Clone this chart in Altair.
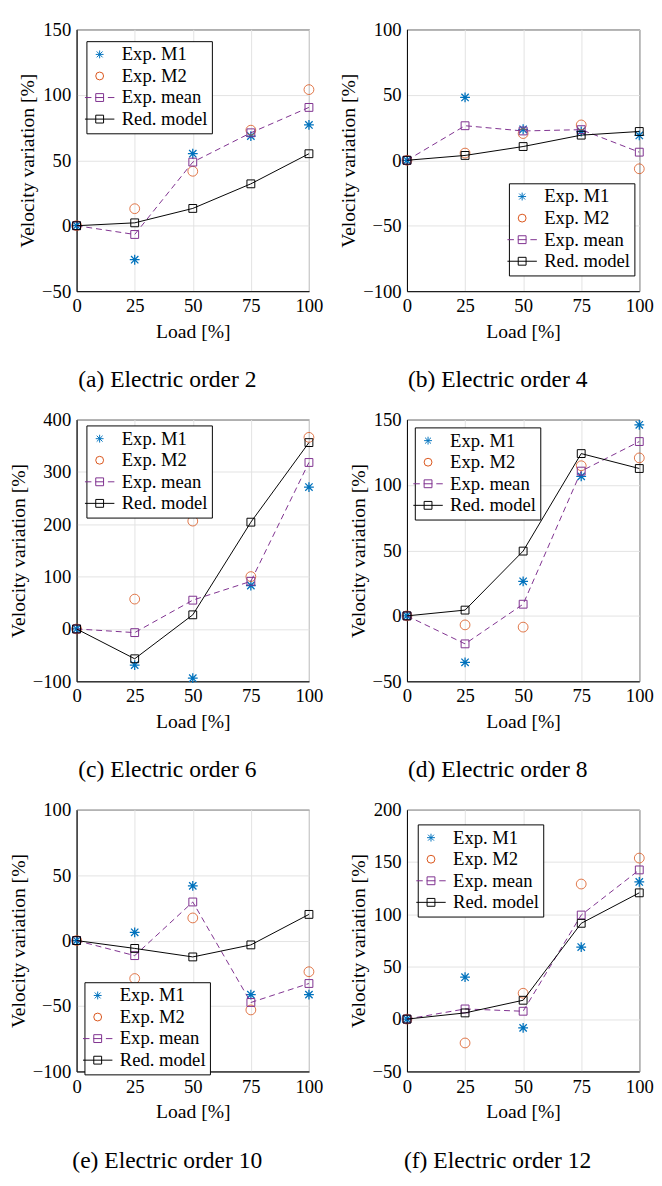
import altair as alt
import pandas as pd

SERIF = "Liberation Serif"
LOAD = [0, 25, 50, 75, 100]
SERIES = ["Exp. M1", "Exp. M2", "Exp. mean", "Red. model"]

# (a) Electric order 2
A_M1 = [0, -26, 55, 68.5, 77]
A_M2 = [0, 13, 41.6, 73, 104]
A_MEAN = [0, -6.7, 48.6, 71, 90.4]
A_MODEL = [0, 2.2, 13.2, 32, 55]
# (b) Electric order 4
B_M1 = [0, 48, 23.7, 22, 19]
B_M2 = [0, 5.5, 20.4, 27, -6.5]
B_MEAN = [0, 26.4, 22.4, 23.4, 6.2]
B_MODEL = [0, 3.7, 10.5, 19.2, 22]
# (c) Electric order 6
C_M1 = [0, -69, -94, 83, 271]
C_M2 = [0, 57, 206, 100, 366]
C_MEAN = [0, -7, 55, 91, 318]
C_MODEL = [0, -57, 27, 204, 356]
# (d) Electric order 8
D_M1 = [0, -35.5, 26.4, 106.6, 146]
D_M2 = [0, -6.9, -8.6, 114.7, 120.7]
D_MEAN = [0, -21.4, 8.9, 110.6, 133.2]
D_MODEL = [0, 4.4, 49.5, 124, 112.6]
# (e) Electric order 10
E_M1 = [0, 6.3, 41.8, -41.3, -41.3]
E_M2 = [0, -29, 17.3, -53, -23.8]
E_MEAN = [0, -11.5, 29.5, -47.3, -32.8]
E_MODEL = [0, -6, -12.5, -3.3, 20]
# (f) Electric order 12
F_M1 = [0, 40, -8.4, 68.8, 131]
F_M2 = [0, -22.8, 24.7, 129, 153.8]
F_MEAN = [0, 9.7, 7.5, 99.4, 142.5]
F_MODEL = [0, 5.9, 18, 91.5, 120.6]

PANELS = [
    ("a", 2, A_M1, A_M2, A_MEAN, A_MODEL, [-50, 150], [-50, 0, 50, 100, 150], 10, 12),
    ("b", 4, B_M1, B_M2, B_MEAN, B_MODEL, [-100, 100], [-100, -50, 0, 50, 100], 104, 157),
    ("c", 6, C_M1, C_M2, C_MEAN, C_MODEL, [-100, 400], [-100, 0, 100, 200, 300, 400], 10, 6),
    ("d", 8, D_M1, D_M2, D_MEAN, D_MODEL, [-50, 150], [-50, 0, 50, 100, 150], 8, 8),
    ("e", 10, E_M1, E_M2, E_MEAN, E_MODEL, [-100, 100], [-100, -50, 0, 50, 100], 8, 176),
    ("f", 12, F_M1, F_M2, F_MEAN, F_MODEL, [-50, 200], [-50, 0, 50, 100, 150, 200], 11, 15),
]

BLUE = "#0072BD"
ORANGE = "#D95319"
PURPLE = "#7E2F8E"
BLACK = "#000000"
COLORS = [BLUE, ORANGE, PURPLE, BLACK]

ASTER = "M0,-1V1M-1,0H1M-0.75,-0.75L0.75,0.75M-0.75,0.75L0.75,-0.75"
SQUARE = "M-1,-1H1V1H-1Z"
LEG_MEAN = "M-3.75,0H-2.1M-1.1,0H1.1M2.1,0H3.75" + SQUARE
LEG_MODEL = "M-3.75,0H3.75" + SQUARE
LEG_SHAPES = [ASTER, "circle", LEG_MEAN, LEG_MODEL]

W, H = 237, 267
AXIS_STYLE = dict(
    labelFont=SERIF, labelFontSize=19, labelColor="black",
    titleFont=SERIF, titleFontSize=20, titleFontWeight="normal", titleColor="black",
    domainColor="black", domainWidth=1, gridColor="#e2e2e2", gridWidth=1,
    ticks=False, labelPadding=6,
)


def panel(letter, order, m1, m2, mean, model, ydom, yticks, lx, ly):
    df = pd.DataFrame({
        "load": LOAD * 4,
        "value": m1 + m2 + mean + model,
        "series": [s for s in SERIES for _ in LOAD],
    })
    x = alt.X("load:Q", scale=alt.Scale(domain=[0, 100], nice=False),
              axis=alt.Axis(values=LOAD, title="Load [%]", labelFlush=False,
                            titlePadding=6, **AXIS_STYLE))
    y = alt.Y("value:Q", scale=alt.Scale(domain=ydom, nice=False),
              axis=alt.Axis(values=yticks, title="Velocity variation [%]",
                            titlePadding=4, **AXIS_STYLE))
    base = alt.Chart(df).encode(x=x, y=y)

    leg = alt.Legend(orient="none", legendX=lx, legendY=ly, title=None,
                     symbolSize=64, symbolStrokeWidth=1, symbolOpacity=1,
                     labelOffset=13, padding=4, rowPadding=2,
                     labelFont=SERIF, labelFontSize=19, labelColor="black",
                     strokeColor="black", fillColor="white")
    legend_layer = base.mark_point(opacity=0, filled=False).encode(
        color=alt.Color("series:N", scale=alt.Scale(domain=SERIES, range=COLORS), legend=leg),
        shape=alt.Shape("series:N", scale=alt.Scale(domain=SERIES, range=LEG_SHAPES), legend=leg),
    )

    def f(name):
        return alt.datum.series == name

    m1_l = base.transform_filter(f("Exp. M1")).mark_point(
        shape=ASTER, size=100, color=BLUE, filled=False, strokeWidth=1.3, opacity=1)
    m2_l = base.transform_filter(f("Exp. M2")).mark_point(
        shape="circle", size=100, color=ORANGE, filled=False, strokeWidth=0.8, opacity=1)
    mean_line = base.transform_filter(f("Exp. mean")).mark_line(
        color=PURPLE, strokeDash=[6, 4], strokeWidth=1)
    mean_pts = base.transform_filter(f("Exp. mean")).mark_point(
        shape="square", size=64, color=PURPLE, filled=False, strokeWidth=1, opacity=1)
    model_line = base.transform_filter(f("Red. model")).mark_line(
        color=BLACK, strokeWidth=1)
    model_pts = base.transform_filter(f("Red. model")).mark_point(
        shape="square", size=64, color=BLACK, filled=False, strokeWidth=1, opacity=1)

    return alt.layer(
        legend_layer, m1_l, m2_l, mean_line, mean_pts, model_line, model_pts
    ).properties(
        width=W, height=H,
        title=alt.TitleParams(
            text=f"({letter}) Electric order {order}", orient="bottom", anchor="middle",
            font=SERIF, fontSize=24, fontWeight="normal", color="black", offset=28, dx=-26),
    )


charts = [panel(*p) for p in PANELS]

chart = alt.concat(
    *charts, columns=2, spacing={"row": 131, "column": 100}, bounds="flush"
).resolve_scale(
    color="independent", shape="independent", x="independent", y="independent"
).resolve_legend(
    color="independent", shape="independent"
).properties(
    padding=0
).configure(
    font=SERIF
).configure_view(
    stroke="black", strokeWidth=1
).configure_legend(
    cornerRadius=0
)

chart.save("out.html", embed_options={"renderer": "svg", "actions": False})
